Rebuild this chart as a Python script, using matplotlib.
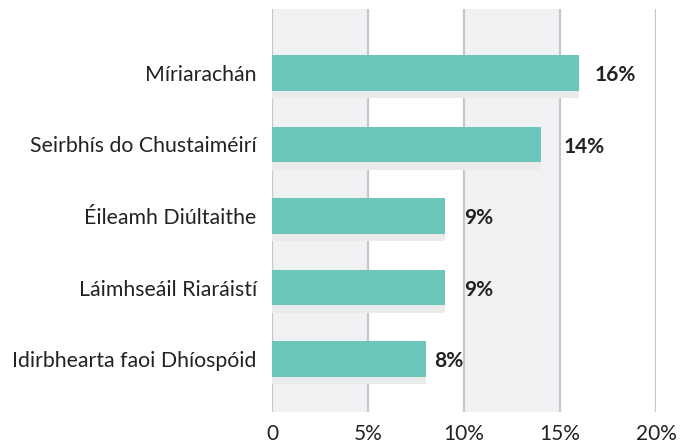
import matplotlib
matplotlib.use("Agg")
import matplotlib.pyplot as plt
from matplotlib.ticker import FuncFormatter

# data
categories = ["Míriarachán", "Seirbhís do Chustaiméirí", "Éileamh Diúltaithe",
              "Láimhseáil Riaráistí", "Idirbhearta faoi Dhíospóid"]
values = [16, 14, 9, 9, 8]
x_ticks = [0, 5, 10, 15, 20]

# gap between bar end and its value label (in % units), as in the reference
label_gaps = [0.78, 1.2, 0.99, 0.99, 0.42]

plt.rcParams['font.family'] = ['Lato', 'DejaVu Sans']

bar_color = "#6cc6b9"
shadow_color = "#ebebeb"
band_color = "#f0f1f3"
grid_color = "#c8c8cc"
text_color = "#222222"

fig = plt.figure(figsize=(6.92, 4.44), dpi=100)
ax = fig.add_axes([272 / 692, 1 - 412 / 444, 384 / 692, 403 / 444])

# alternating bands between gridlines
for lo in (0, 10):
    ax.axvspan(lo, lo + 5, color=band_color, zorder=0, lw=0)
for t in x_ticks:
    ax.axvline(t, color=grid_color, lw=1.6, zorder=1)

ypos = list(range(len(categories)))
# soft shadow under each bar
ax.barh([y + 0.1 for y in ypos], values, height=0.5, color=shadow_color, zorder=2)
ax.barh(ypos, values, height=0.5, color=bar_color, zorder=3)

for y, v, g in zip(ypos, values, label_gaps):
    ax.text(v + g, y + 0.03, f"{v}%", va="center", ha="left",
            fontsize=15, fontweight="bold", color=text_color, zorder=4)

ax.set_xlim(0, 20)
ax.set_ylim(4 + 53 / 71.5, -64 / 71.5)
ax.set_yticks(ypos)
ax.set_yticklabels(categories, fontsize=15.3, color=text_color)
ax.set_xticks(x_ticks)
ax.xaxis.set_major_formatter(FuncFormatter(lambda x, p: "0" if x == 0 else f"{x:.0f}%"))
ax.tick_params(axis="x", labelsize=15, labelcolor=text_color, length=0, pad=8.5)
ax.tick_params(axis="y", length=0, pad=11)
for s in ax.spines.values():
    s.set_visible(False)

fig.savefig("out.png", dpi=100)
